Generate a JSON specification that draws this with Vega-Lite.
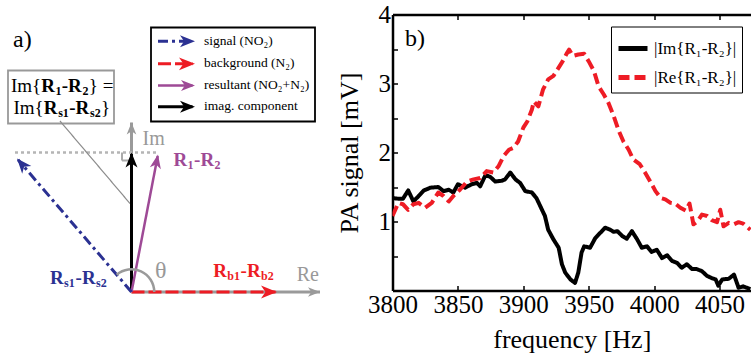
{
  "$schema": "https://vega.github.io/schema/vega-lite/v6.json",
  "padding": {"top": 2.5, "left": 0, "right": 0, "bottom": 0},
  "background": "white",
  "bounds": "flush",
  "spacing": 52.5,
  "config": {"font": "Liberation Serif", "view": {"stroke": null}, "axis": {"grid": false}},
  "datasets": {
    "boxes": [
      {"box": "key", "x": 1.95, "y": 26.45, "x2": 18.35, "y2": 17.05},
      {"box": "note", "x": -12.35, "y": 22.15, "x2": -1.75, "y2": 16.85}
    ],
    "segments": [
      {"name": "Re axis", "x": 0, "y": 0, "x2": 18.85, "y2": 0},
      {"name": "Im axis", "x": 0, "y": 0, "x2": 0, "y2": 16.95},
      {"name": "projection", "x": -11.65, "y": 13.95, "x2": 2.65, "y2": 13.95},
      {"name": "right angle", "x": -0.95, "y": 13.95, "x2": -0.95, "y2": 13.15},
      {"name": "right angle", "x": -0.95, "y": 13.15, "x2": 0, "y2": 13.15},
      {"name": "leader", "x": -7.15, "y": 17.1, "x2": -0.15, "y2": 8.85},
      {"name": "background", "x": 0, "y": 0, "x2": 14.4, "y2": 0},
      {"name": "imaginary", "x": 0, "y": 0, "x2": 0, "y2": 13.8},
      {"name": "resultant", "x": 0, "y": 0, "x2": 2.62, "y2": 13.6},
      {"name": "signal", "x": 0, "y": 0, "x2": -11.35, "y2": 13.23},
      {"name": "signal", "x": 2.65, "y": 25.08, "x2": 6.1, "y2": 25.08},
      {"name": "background", "x": 2.65, "y": 22.82, "x2": 6.1, "y2": 22.82},
      {"name": "resultant", "x": 2.65, "y": 20.65, "x2": 6.1, "y2": 20.65},
      {"name": "imaginary", "x": 2.65, "y": 18.52, "x2": 6.1, "y2": 18.52}
    ],
    "heads": [
      {"name": "Re axis", "x": 18.85, "y": 0, "angle": 90},
      {"name": "Im axis", "x": 0, "y": 16.95, "angle": 0},
      {"name": "background", "x": 14.55, "y": 0, "angle": 90},
      {"name": "imaginary", "x": 0, "y": 13.95, "angle": 0},
      {"name": "resultant", "x": 2.65, "y": 13.75, "angle": 10.9},
      {"name": "signal", "x": -11.45, "y": 13.35, "angle": -40.6},
      {"name": "signal", "x": 6.35, "y": 25.08, "angle": 90},
      {"name": "background", "x": 6.35, "y": 22.82, "angle": 90},
      {"name": "resultant", "x": 6.35, "y": 20.65, "angle": 90},
      {"name": "imaginary", "x": 6.35, "y": 18.52, "angle": 90}
    ],
    "angles": [
      {"x": 0, "y": 0, "a0": -0.709, "a1": 1.5708}
    ],
    "texts": [
      {"t": "a)", "x": -11.85, "y": 24.55, "kind": "panel"},
      {"t": "Im", "x": 1.1, "y": 14.75, "kind": "axis"},
      {"t": "Re", "x": 16.52, "y": 1.08, "kind": "axis"},
      {"t": "θ", "x": 2.35, "y": 1.45, "kind": "angle"},
      {"t": "signal (NO₂)", "x": 7.25, "y": 24.73, "kind": "key"},
      {"t": "background (N₂)", "x": 7.25, "y": 22.47, "kind": "key"},
      {"t": "resultant (NO₂+N₂)", "x": 7.25, "y": 20.3, "kind": "key"},
      {"t": "imag. component", "x": 7.25, "y": 18.17, "kind": "key"},
      {"t": "Im{", "x": -12.05, "y": 20.05, "kind": "note"},
      {"t": "} =", "x": -4.27, "y": 20.05, "kind": "note"},
      {"t": "Im{", "x": -11.8, "y": 17.8, "kind": "note"},
      {"t": "}", "x": -3.05, "y": 17.8, "kind": "note"}
    ],
    "symbols": [
      {"t": "R", "x": 4.2, "y": 12.58, "tone": "resultant", "part": "main"},
      {"t": "1", "x": 5.6, "y": 12.28, "tone": "resultant", "part": "index"},
      {"t": "-", "x": 6.25, "y": 12.58, "tone": "resultant", "part": "main"},
      {"t": "R", "x": 6.9, "y": 12.58, "tone": "resultant", "part": "main"},
      {"t": "2", "x": 8.3, "y": 12.28, "tone": "resultant", "part": "index"},
      {"t": "R", "x": -8.15, "y": 0.82, "tone": "signal", "part": "main"},
      {"t": "s1", "x": -6.75, "y": 0.52, "tone": "signal", "part": "index"},
      {"t": "-", "x": -5.6, "y": 0.82, "tone": "signal", "part": "main"},
      {"t": "R", "x": -4.95, "y": 0.82, "tone": "signal", "part": "main"},
      {"t": "s2", "x": -3.55, "y": 0.52, "tone": "signal", "part": "index"},
      {"t": "R", "x": 8.18, "y": 1.48, "tone": "background", "part": "main"},
      {"t": "b1", "x": 9.58, "y": 1.18, "tone": "background", "part": "index"},
      {"t": "-", "x": 10.9, "y": 1.48, "tone": "background", "part": "main"},
      {"t": "R", "x": 11.55, "y": 1.48, "tone": "background", "part": "main"},
      {"t": "b2", "x": 12.95, "y": 1.18, "tone": "background", "part": "index"},
      {"t": "R", "x": -9.03, "y": 20.05, "tone": "imaginary", "part": "main"},
      {"t": "1", "x": -7.6, "y": 19.75, "tone": "imaginary", "part": "index"},
      {"t": "-", "x": -6.97, "y": 20.05, "tone": "imaginary", "part": "main"},
      {"t": "R", "x": -6.34, "y": 20.05, "tone": "imaginary", "part": "main"},
      {"t": "2", "x": -4.9, "y": 19.75, "tone": "imaginary", "part": "index"},
      {"t": "R", "x": -8.78, "y": 17.8, "tone": "imaginary", "part": "main"},
      {"t": "s1", "x": -7.33, "y": 17.5, "tone": "imaginary", "part": "index"},
      {"t": "-", "x": -6.23, "y": 17.8, "tone": "imaginary", "part": "main"},
      {"t": "R", "x": -5.6, "y": 17.8, "tone": "imaginary", "part": "main"},
      {"t": "s2", "x": -4.15, "y": 17.5, "tone": "imaginary", "part": "index"}
    ],
    "spectra": [
      {"s": "|Im{R₁-R₂}|", "f": 3800, "v": 1.34}, {"s": "|Im{R₁-R₂}|", "f": 3804.5, "v": 1.33}, {"s": "|Im{R₁-R₂}|", "f": 3808, "v": 1.33}, {"s": "|Im{R₁-R₂}|", "f": 3812, "v": 1.45}, {"s": "|Im{R₁-R₂}|", "f": 3816, "v": 1.29}, {"s": "|Im{R₁-R₂}|", "f": 3820, "v": 1.37}, {"s": "|Im{R₁-R₂}|", "f": 3824, "v": 1.45}, {"s": "|Im{R₁-R₂}|", "f": 3829, "v": 1.49}, {"s": "|Im{R₁-R₂}|", "f": 3835, "v": 1.5}, {"s": "|Im{R₁-R₂}|", "f": 3839, "v": 1.44}, {"s": "|Im{R₁-R₂}|", "f": 3843, "v": 1.46}, {"s": "|Im{R₁-R₂}|", "f": 3846.5, "v": 1.42}, {"s": "|Im{R₁-R₂}|", "f": 3850, "v": 1.54}, {"s": "|Im{R₁-R₂}|", "f": 3855.5, "v": 1.49}, {"s": "|Im{R₁-R₂}|", "f": 3860.5, "v": 1.54}, {"s": "|Im{R₁-R₂}|", "f": 3864.5, "v": 1.56}, {"s": "|Im{R₁-R₂}|", "f": 3867, "v": 1.51}, {"s": "|Im{R₁-R₂}|", "f": 3871, "v": 1.67}, {"s": "|Im{R₁-R₂}|", "f": 3874.5, "v": 1.65}, {"s": "|Im{R₁-R₂}|", "f": 3878.5, "v": 1.58}, {"s": "|Im{R₁-R₂}|", "f": 3883.5, "v": 1.59}, {"s": "|Im{R₁-R₂}|", "f": 3886, "v": 1.61}, {"s": "|Im{R₁-R₂}|", "f": 3890, "v": 1.71}, {"s": "|Im{R₁-R₂}|", "f": 3894, "v": 1.61}, {"s": "|Im{R₁-R₂}|", "f": 3897.5, "v": 1.56}, {"s": "|Im{R₁-R₂}|", "f": 3901.5, "v": 1.44}, {"s": "|Im{R₁-R₂}|", "f": 3906.5, "v": 1.42}, {"s": "|Im{R₁-R₂}|", "f": 3910, "v": 1.34}, {"s": "|Im{R₁-R₂}|", "f": 3913, "v": 1.22}, {"s": "|Im{R₁-R₂}|", "f": 3916.5, "v": 1.08}, {"s": "|Im{R₁-R₂}|", "f": 3919, "v": 0.88}, {"s": "|Im{R₁-R₂}|", "f": 3923, "v": 0.74}, {"s": "|Im{R₁-R₂}|", "f": 3927, "v": 0.62}, {"s": "|Im{R₁-R₂}|", "f": 3929.5, "v": 0.38}, {"s": "|Im{R₁-R₂}|", "f": 3932, "v": 0.26}, {"s": "|Im{R₁-R₂}|", "f": 3936, "v": 0.16}, {"s": "|Im{R₁-R₂}|", "f": 3939.5, "v": 0.11}, {"s": "|Im{R₁-R₂}|", "f": 3942, "v": 0.26}, {"s": "|Im{R₁-R₂}|", "f": 3944.5, "v": 0.55}, {"s": "|Im{R₁-R₂}|", "f": 3946.5, "v": 0.64}, {"s": "|Im{R₁-R₂}|", "f": 3951, "v": 0.62}, {"s": "|Im{R₁-R₂}|", "f": 3955, "v": 0.76}, {"s": "|Im{R₁-R₂}|", "f": 3959, "v": 0.84}, {"s": "|Im{R₁-R₂}|", "f": 3962.5, "v": 0.91}, {"s": "|Im{R₁-R₂}|", "f": 3966.5, "v": 0.88}, {"s": "|Im{R₁-R₂}|", "f": 3969, "v": 0.85}, {"s": "|Im{R₁-R₂}|", "f": 3972, "v": 0.86}, {"s": "|Im{R₁-R₂}|", "f": 3975.5, "v": 0.79}, {"s": "|Im{R₁-R₂}|", "f": 3979, "v": 0.75}, {"s": "|Im{R₁-R₂}|", "f": 3983, "v": 0.86}, {"s": "|Im{R₁-R₂}|", "f": 3987, "v": 0.74}, {"s": "|Im{R₁-R₂}|", "f": 3990.5, "v": 0.62}, {"s": "|Im{R₁-R₂}|", "f": 3994.5, "v": 0.64}, {"s": "|Im{R₁-R₂}|", "f": 3998, "v": 0.56}, {"s": "|Im{R₁-R₂}|", "f": 4002, "v": 0.59}, {"s": "|Im{R₁-R₂}|", "f": 4006, "v": 0.47}, {"s": "|Im{R₁-R₂}|", "f": 4010, "v": 0.51}, {"s": "|Im{R₁-R₂}|", "f": 4013.5, "v": 0.43}, {"s": "|Im{R₁-R₂}|", "f": 4017.5, "v": 0.4}, {"s": "|Im{R₁-R₂}|", "f": 4021, "v": 0.33}, {"s": "|Im{R₁-R₂}|", "f": 4025, "v": 0.38}, {"s": "|Im{R₁-R₂}|", "f": 4029, "v": 0.31}, {"s": "|Im{R₁-R₂}|", "f": 4032.5, "v": 0.31}, {"s": "|Im{R₁-R₂}|", "f": 4036.5, "v": 0.28}, {"s": "|Im{R₁-R₂}|", "f": 4040.5, "v": 0.21}, {"s": "|Im{R₁-R₂}|", "f": 4044, "v": 0.18}, {"s": "|Im{R₁-R₂}|", "f": 4047, "v": 0.16}, {"s": "|Im{R₁-R₂}|", "f": 4049, "v": 0.07}, {"s": "|Im{R₁-R₂}|", "f": 4052, "v": 0.16}, {"s": "|Im{R₁-R₂}|", "f": 4057, "v": 0.17}, {"s": "|Im{R₁-R₂}|", "f": 4061, "v": 0.23}, {"s": "|Im{R₁-R₂}|", "f": 4064.5, "v": 0.04}, {"s": "|Im{R₁-R₂}|", "f": 4068, "v": 0.06}, {"s": "|Im{R₁-R₂}|", "f": 4073.5, "v": 0.02},
      {"s": "|Re{R₁-R₂}|", "f": 3800, "v": 1.08}, {"s": "|Re{R₁-R₂}|", "f": 3804.5, "v": 1.27}, {"s": "|Re{R₁-R₂}|", "f": 3808, "v": 1.25}, {"s": "|Re{R₁-R₂}|", "f": 3812, "v": 1.17}, {"s": "|Re{R₁-R₂}|", "f": 3816, "v": 1.25}, {"s": "|Re{R₁-R₂}|", "f": 3820, "v": 1.27}, {"s": "|Re{R₁-R₂}|", "f": 3825, "v": 1.2}, {"s": "|Re{R₁-R₂}|", "f": 3830, "v": 1.27}, {"s": "|Re{R₁-R₂}|", "f": 3835, "v": 1.42}, {"s": "|Re{R₁-R₂}|", "f": 3839, "v": 1.37}, {"s": "|Re{R₁-R₂}|", "f": 3843, "v": 1.29}, {"s": "|Re{R₁-R₂}|", "f": 3846.5, "v": 1.37}, {"s": "|Re{R₁-R₂}|", "f": 3851.5, "v": 1.46}, {"s": "|Re{R₁-R₂}|", "f": 3857, "v": 1.58}, {"s": "|Re{R₁-R₂}|", "f": 3862, "v": 1.61}, {"s": "|Re{R₁-R₂}|", "f": 3867, "v": 1.63}, {"s": "|Re{R₁-R₂}|", "f": 3872, "v": 1.73}, {"s": "|Re{R₁-R₂}|", "f": 3877, "v": 1.71}, {"s": "|Re{R₁-R₂}|", "f": 3881, "v": 1.8}, {"s": "|Re{R₁-R₂}|", "f": 3885, "v": 1.95}, {"s": "|Re{R₁-R₂}|", "f": 3889, "v": 2.04}, {"s": "|Re{R₁-R₂}|", "f": 3892.5, "v": 2.07}, {"s": "|Re{R₁-R₂}|", "f": 3896, "v": 2.16}, {"s": "|Re{R₁-R₂}|", "f": 3900, "v": 2.36}, {"s": "|Re{R₁-R₂}|", "f": 3903, "v": 2.45}, {"s": "|Re{R₁-R₂}|", "f": 3906.5, "v": 2.62}, {"s": "|Re{R₁-R₂}|", "f": 3908, "v": 2.74}, {"s": "|Re{R₁-R₂}|", "f": 3911.5, "v": 2.67}, {"s": "|Re{R₁-R₂}|", "f": 3915, "v": 2.91}, {"s": "|Re{R₁-R₂}|", "f": 3919, "v": 3.06}, {"s": "|Re{R₁-R₂}|", "f": 3923, "v": 3.11}, {"s": "|Re{R₁-R₂}|", "f": 3927, "v": 3.23}, {"s": "|Re{R₁-R₂}|", "f": 3930, "v": 3.32}, {"s": "|Re{R₁-R₂}|", "f": 3933, "v": 3.43}, {"s": "|Re{R₁-R₂}|", "f": 3935, "v": 3.49}, {"s": "|Re{R₁-R₂}|", "f": 3938, "v": 3.4}, {"s": "|Re{R₁-R₂}|", "f": 3942, "v": 3.42}, {"s": "|Re{R₁-R₂}|", "f": 3946.5, "v": 3.43}, {"s": "|Re{R₁-R₂}|", "f": 3950, "v": 3.32}, {"s": "|Re{R₁-R₂}|", "f": 3954, "v": 3.18}, {"s": "|Re{R₁-R₂}|", "f": 3957.5, "v": 2.96}, {"s": "|Re{R₁-R₂}|", "f": 3961.5, "v": 2.84}, {"s": "|Re{R₁-R₂}|", "f": 3965, "v": 2.72}, {"s": "|Re{R₁-R₂}|", "f": 3969, "v": 2.53}, {"s": "|Re{R₁-R₂}|", "f": 3973, "v": 2.31}, {"s": "|Re{R₁-R₂}|", "f": 3976.5, "v": 2.16}, {"s": "|Re{R₁-R₂}|", "f": 3980.5, "v": 2.04}, {"s": "|Re{R₁-R₂}|", "f": 3984, "v": 1.9}, {"s": "|Re{R₁-R₂}|", "f": 3989, "v": 1.83}, {"s": "|Re{R₁-R₂}|", "f": 3993, "v": 1.71}, {"s": "|Re{R₁-R₂}|", "f": 3997, "v": 1.58}, {"s": "|Re{R₁-R₂}|", "f": 4001, "v": 1.44}, {"s": "|Re{R₁-R₂}|", "f": 4005, "v": 1.34}, {"s": "|Re{R₁-R₂}|", "f": 4008.5, "v": 1.32}, {"s": "|Re{R₁-R₂}|", "f": 4012.5, "v": 1.27}, {"s": "|Re{R₁-R₂}|", "f": 4016, "v": 1.26}, {"s": "|Re{R₁-R₂}|", "f": 4020, "v": 1.2}, {"s": "|Re{R₁-R₂}|", "f": 4024, "v": 1.16}, {"s": "|Re{R₁-R₂}|", "f": 4027, "v": 1.26}, {"s": "|Re{R₁-R₂}|", "f": 4030, "v": 0.96}, {"s": "|Re{R₁-R₂}|", "f": 4033, "v": 1.0}, {"s": "|Re{R₁-R₂}|", "f": 4036.5, "v": 1.1}, {"s": "|Re{R₁-R₂}|", "f": 4040.5, "v": 1.08}, {"s": "|Re{R₁-R₂}|", "f": 4044, "v": 1.02}, {"s": "|Re{R₁-R₂}|", "f": 4048, "v": 0.99}, {"s": "|Re{R₁-R₂}|", "f": 4050.5, "v": 1.17}, {"s": "|Re{R₁-R₂}|", "f": 4053, "v": 0.93}, {"s": "|Re{R₁-R₂}|", "f": 4057, "v": 0.98}, {"s": "|Re{R₁-R₂}|", "f": 4061, "v": 0.96}, {"s": "|Re{R₁-R₂}|", "f": 4064.5, "v": 0.99}, {"s": "|Re{R₁-R₂}|", "f": 4068, "v": 0.97}, {"s": "|Re{R₁-R₂}|", "f": 4073.5, "v": 0.88}
    ],
    "panelb": [
      {"t": "b)", "f": 3809.5, "v": 3.55}
    ]
  },
  "hconcat": [
    {
      "width": 340,
      "height": 345,
      "encoding": {
        "x": {"field": "x", "type": "quantitative", "scale": {"domain": [-13.15, 20.85], "nice": false, "zero": false}, "axis": null},
        "y": {"field": "y", "type": "quantitative", "scale": {"domain": [-6.75, 27.75], "nice": false, "zero": false}, "axis": null}
      },
      "layer": [
        {
          "data": {"name": "boxes"},
          "mark": {"type": "rect", "fill": "white", "strokeWidth": 1.8},
          "encoding": {
            "x2": {"field": "x2"},
            "y2": {"field": "y2"},
            "stroke": {"field": "box", "type": "nominal", "scale": {"domain": ["key", "note"], "range": ["#000000", "#999999"]}, "legend": null}
          }
        },
        {
          "data": {"name": "segments"},
          "mark": {"type": "rule", "strokeCap": "butt"},
          "encoding": {
            "x2": {"field": "x2"},
            "y2": {"field": "y2"},
            "color": {"field": "name", "type": "nominal", "scale": {"domain": ["Re axis", "Im axis", "projection", "right angle", "leader", "background", "imaginary", "resultant", "signal"], "range": ["#9a9a9a", "#9a9a9a", "#b5b5b5", "#aaaaaa", "#8c8c8c", "#ed1c24", "#000000", "#9e4a96", "#2b3192"]}, "legend": null},
            "strokeDash": {"field": "name", "type": "nominal", "scale": {"domain": ["Re axis", "Im axis", "projection", "right angle", "leader", "background", "imaginary", "resultant", "signal"], "range": [[1, 0], [1, 0], [3, 3], [1, 0], [1, 0], [13, 4], [1, 0], [1, 0], [10, 4, 3, 4]]}, "legend": null},
            "strokeWidth": {"field": "name", "type": "nominal", "scale": {"type": "ordinal", "domain": ["Re axis", "Im axis", "projection", "right angle", "leader", "background", "imaginary", "resultant", "signal"], "range": [3, 3, 2.5, 2, 1.2, 3, 3, 2.5, 3]}, "legend": null}
          }
        },
        {
          "data": {"name": "angles"},
          "mark": {"type": "arc", "innerRadius": 21.5, "outerRadius": 24, "color": "#9a9a9a"},
          "encoding": {
            "theta": {"field": "a0", "type": "quantitative", "scale": null},
            "theta2": {"field": "a1"}
          }
        },
        {
          "data": {"name": "heads"},
          "mark": {"type": "point", "shape": "M0,0L0.8,2L0,1.45L-0.8,2Z", "filled": true, "opacity": 1, "strokeWidth": 0},
          "encoding": {
            "color": {"field": "name", "type": "nominal", "scale": {"domain": ["Re axis", "Im axis", "background", "imaginary", "resultant", "signal"], "range": ["#9a9a9a", "#9a9a9a", "#ed1c24", "#000000", "#9e4a96", "#2b3192"]}, "legend": null},
            "size": {"field": "name", "type": "nominal", "scale": {"type": "ordinal", "domain": ["Re axis", "Im axis", "background", "imaginary", "resultant", "signal"], "range": [144, 144, 256, 225, 196, 225]}, "legend": null},
            "angle": {"field": "angle", "type": "quantitative", "scale": null}
          }
        },
        {
          "data": {"name": "texts"},
          "mark": {"type": "text", "align": "left", "baseline": "alphabetic", "font": "Liberation Serif"},
          "encoding": {
            "text": {"field": "t"},
            "size": {"field": "kind", "type": "nominal", "scale": {"type": "ordinal", "domain": ["panel", "axis", "angle", "key", "note"], "range": [24, 20, 24, 13.5, 19]}, "legend": null},
            "color": {"field": "kind", "type": "nominal", "scale": {"domain": ["panel", "axis", "angle", "key", "note"], "range": ["#000000", "#999999", "#999999", "#000000", "#000000"]}, "legend": null}
          }
        },
        {
          "data": {"name": "symbols"},
          "transform": [{"filter": "datum.part === 'main'"}],
          "mark": {"type": "text", "align": "left", "baseline": "alphabetic", "font": "Liberation Serif", "fontWeight": "bold", "fontSize": 19},
          "encoding": {
            "text": {"field": "t"},
            "color": {"field": "tone", "type": "nominal", "scale": {"domain": ["signal", "background", "resultant", "imaginary"], "range": ["#2b3192", "#ed1c24", "#9e4a96", "#000000"]}, "legend": null}
          }
        },
        {
          "data": {"name": "symbols"},
          "transform": [{"filter": "datum.part === 'index'"}],
          "mark": {"type": "text", "align": "left", "baseline": "alphabetic", "font": "Liberation Serif", "fontWeight": "bold", "fontSize": 12},
          "encoding": {
            "text": {"field": "t"},
            "color": {"field": "tone", "type": "nominal", "scale": {"domain": ["signal", "background", "resultant", "imaginary"], "range": ["#2b3192", "#ed1c24", "#9e4a96", "#000000"]}, "legend": null}
          }
        }
      ],
      "resolve": {"scale": {"color": "independent", "size": "independent", "strokeDash": "independent", "strokeWidth": "independent", "stroke": "independent"}}
    },
    {
      "width": 358.5,
      "height": 276,
      "layer": [
        {
          "data": {"name": "spectra"},
          "mark": {"type": "line", "strokeWidth": 4, "strokeJoin": "round", "clip": true},
          "encoding": {
            "x": {"field": "f", "type": "quantitative", "scale": {"domain": [3800, 4074], "nice": false, "zero": false},
              "axis": {"orient": "bottom", "values": [3800, 3850, 3900, 3950, 4000, 4050], "format": "d", "labelFont": "Liberation Serif", "labelFontSize": 25, "labelColor": "#000000", "labelFlush": false, "labelOverlap": false, "labelPadding": 7, "tickSize": -5, "tickColor": "#000000", "tickWidth": 1.5, "domainColor": "#000000", "domainWidth": 2.5, "title": "frequency [Hz]", "titleFont": "Liberation Serif", "titleFontSize": 26, "titleFontWeight": "normal", "titleColor": "#000000", "titlePadding": 9}},
            "y": {"field": "v", "type": "quantitative", "scale": {"domain": [0, 4], "nice": false, "zero": false},
              "axis": {"orient": "left", "values": [1, 2, 3, 4], "format": "d", "labelFont": "Liberation Serif", "labelFontSize": 25, "labelColor": "#000000", "labelFlush": false, "labelOverlap": false, "labelPadding": 7, "tickSize": -5, "tickColor": "#000000", "tickWidth": 1.5, "domainColor": "#000000", "domainWidth": 2.5, "title": "PA signal [mV]", "titleFont": "Liberation Serif", "titleFontSize": 26, "titleFontWeight": "normal", "titleColor": "#000000", "titlePadding": 16}},
            "color": {"field": "s", "type": "nominal", "scale": {"domain": ["|Im{R₁-R₂}|", "|Re{R₁-R₂}|"], "range": ["#000000", "#ee1c25"]},
              "legend": {"title": null, "orient": "none", "legendX": 611, "legendY": 12, "symbolType": "stroke", "symbolSize": 841, "symbolStrokeWidth": 5, "labelFont": "Liberation Serif", "labelFontSize": 17, "labelColor": "#000000", "labelLimit": 0, "rowPadding": 2, "padding": 5, "strokeColor": "#000000", "fillColor": "#ffffff"}},
            "strokeDash": {"field": "s", "type": "nominal", "scale": {"domain": ["|Im{R₁-R₂}|", "|Re{R₁-R₂}|"], "range": [[1, 0], [11, 5]]},
              "legend": {"title": null, "orient": "none", "legendX": 611, "legendY": 12, "symbolType": "stroke", "symbolSize": 841, "symbolStrokeWidth": 5, "labelFont": "Liberation Serif", "labelFontSize": 17, "labelColor": "#000000", "labelLimit": 0, "rowPadding": 2, "padding": 5, "strokeColor": "#000000", "fillColor": "#ffffff"}}
          }
        },
        {
          "data": {"name": "panelb"},
          "mark": {"type": "text", "align": "left", "baseline": "alphabetic", "font": "Liberation Serif", "fontSize": 24, "color": "#000000"},
          "encoding": {
            "x": {"field": "f", "type": "quantitative", "scale": {"domain": [3800, 4074], "nice": false, "zero": false},
              "axis": {"orient": "top", "values": [3800, 3850, 3900, 3950, 4000, 4050], "labels": false, "title": null, "tickSize": -5, "tickColor": "#000000", "tickWidth": 1.5, "domainColor": "#000000", "domainWidth": 2.5}},
            "y": {"field": "v", "type": "quantitative", "scale": {"domain": [0, 4], "nice": false, "zero": false},
              "axis": {"orient": "left", "values": [0.5, 1.5, 2.5, 3.5], "labels": false, "domain": false, "title": null, "tickSize": -5, "tickColor": "#000000", "tickWidth": 1.5}},
            "text": {"field": "t"}
          }
        }
      ],
      "resolve": {"axis": {"x": "independent", "y": "independent"}}
    }
  ]
}
